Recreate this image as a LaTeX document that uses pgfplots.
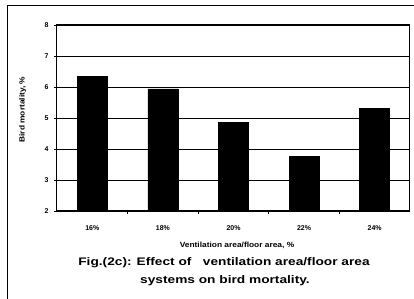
\documentclass[border=0pt]{standalone}
\usepackage{pgfplots}
\pgfplotsset{compat=1.18}
\usepackage{fontspec}
\setmainfont{Liberation Sans}
\newfontfamily\wide[FakeStretch=1.25]{Liberation Sans}
\newfontfamily\widelab[FakeStretch=1.12]{Liberation Sans}
\begin{document}
\begin{tikzpicture}[x=1bp,y=1bp]
\useasboundingbox (0,0) rectangle (414,299);
\draw[line width=0.9bp] (7,0) -- (7,294) -- (414,294);
\begin{axis}[
  at={(57bp,88bp)}, anchor=south west,
  scale only axis, width=353bp, height=186bp,
  ymin=2, ymax=8, ytick={2,3,4,5,6,7,8},
  xmin=-0.5, xmax=4.5,
  xtick={0,1,2,3,4},
  xticklabels={16\%,18\%,20\%,22\%,24\%},
  minor xtick={0.5,1.5,2.5,3.5},
  ymajorgrids, grid style={black, line width=0.8bp},
  axis line style={black, line width=1bp},
  tick align=outside,
  xtick style={draw=none},
  minor x tick style={draw=black, line width=0.8bp},
  ytick style={black, line width=0.8bp},
  major tick length=3bp, minor tick length=3bp,
  xtick pos=bottom, ytick pos=left,
  ybar, bar width=30bp,
  /pgf/number format/assume math mode=true,
  tick label style={font=\fontsize{7}{8}\selectfont\bfseries},
  xticklabel style={yshift=-8bp},
  yticklabel style={xshift=-2bp},
  xlabel={Ventilation area/floor area, \%},
  ylabel={Bird mortality, \%},
  label style={font=\widelab\fontsize{7.5}{8}\selectfont\bfseries},
  xlabel style={at={(axis description cs:0.51,-0.183)}, anchor=center},
  ylabel style={at={(axis description cs:-0.097,0.545)}, anchor=center},
]
\addplot[fill=black, draw=black] coordinates {(0,6.35) (1,5.94) (2,4.87) (3,3.77) (4,5.32)};
\end{axis}
\node[font=\wide\fontsize{11}{12}\selectfont\bfseries, anchor=center] at (224,36) {Fig.(2c): Effect of \ \ ventilation area/floor area};
\node[font=\wide\fontsize{11}{12}\selectfont\bfseries, anchor=center] at (225,18) {systems on bird mortality.};
\end{tikzpicture}
\end{document}
